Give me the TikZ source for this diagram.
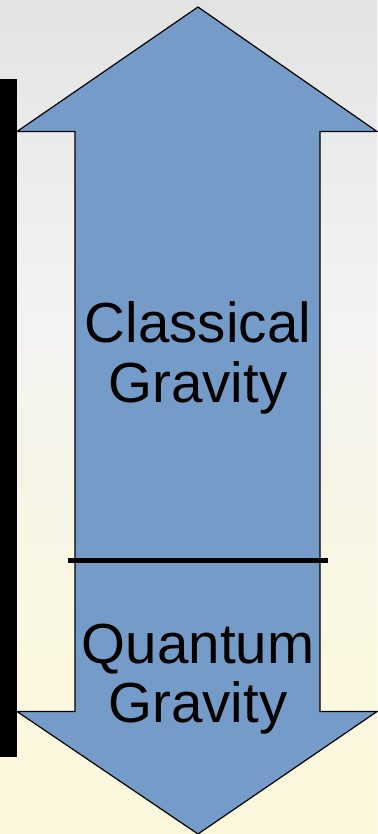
\documentclass[tikz,border=0pt]{standalone}
\usepackage{fontspec}
\setmainfont{Liberation Sans}
\definecolor{bgA}{RGB}{227,227,227}
\definecolor{bgB}{RGB}{236,236,236}
\definecolor{bgC}{RGB}{243,243,243}
\definecolor{bgD}{RGB}{246,244,232}
\definecolor{bgE}{RGB}{250,247,226}
\definecolor{bgF}{RGB}{253,248,220}
\definecolor{arrowblue}{RGB}{117,156,200}
\pgfdeclareverticalshading{bgshade}{100bp}{color(0bp)=(bgF); color(25bp)=(bgF); color(38bp)=(bgE); color(47bp)=(bgD); color(56bp)=(bgC); color(65bp)=(bgB); color(75bp)=(bgA); color(100bp)=(bgA)}
\begin{document}
\begin{tikzpicture}[x=1pt,y=-1pt,
  lbl/.style={font=\fontsize{56.5}{60}\selectfont, inner sep=0pt, anchor=base, text=black},
  bigarrow/.style={fill=arrowblue, draw=black, line width=1.2pt, line join=miter},
  divider/.style={draw=black, line width=5pt}]
  \useasboundingbox (0,0) rectangle (377,834);
  \shade[shading=bgshade] (0,0) rectangle (377,834);
  % black bar
  \fill[black] (0,79) rectangle (17,757);
  % double arrow
  \path[bigarrow] (198,7) -- (377,131.5) -- (320,131.5) -- (320,711.5) -- (377,711.5)
     -- (198,834) -- (17,711.5) -- (75,711.5) -- (75,131.5) -- (17,131.5) -- cycle;
  % divider
  \coordinate (dl) at (68,560);
  \coordinate (dr) at (328,560);
  \draw[divider] (dl) -- (dr);
  % labels
  \node[lbl] (c1) at (198,342) {Classical};
  \node[lbl] (c2) at (198,402) {Gravity};
  \node[lbl] (q1) at (198,663) {Quantum};
  \node[lbl] (q2) at (198,722) {Gravity};
\end{tikzpicture}
\end{document}
